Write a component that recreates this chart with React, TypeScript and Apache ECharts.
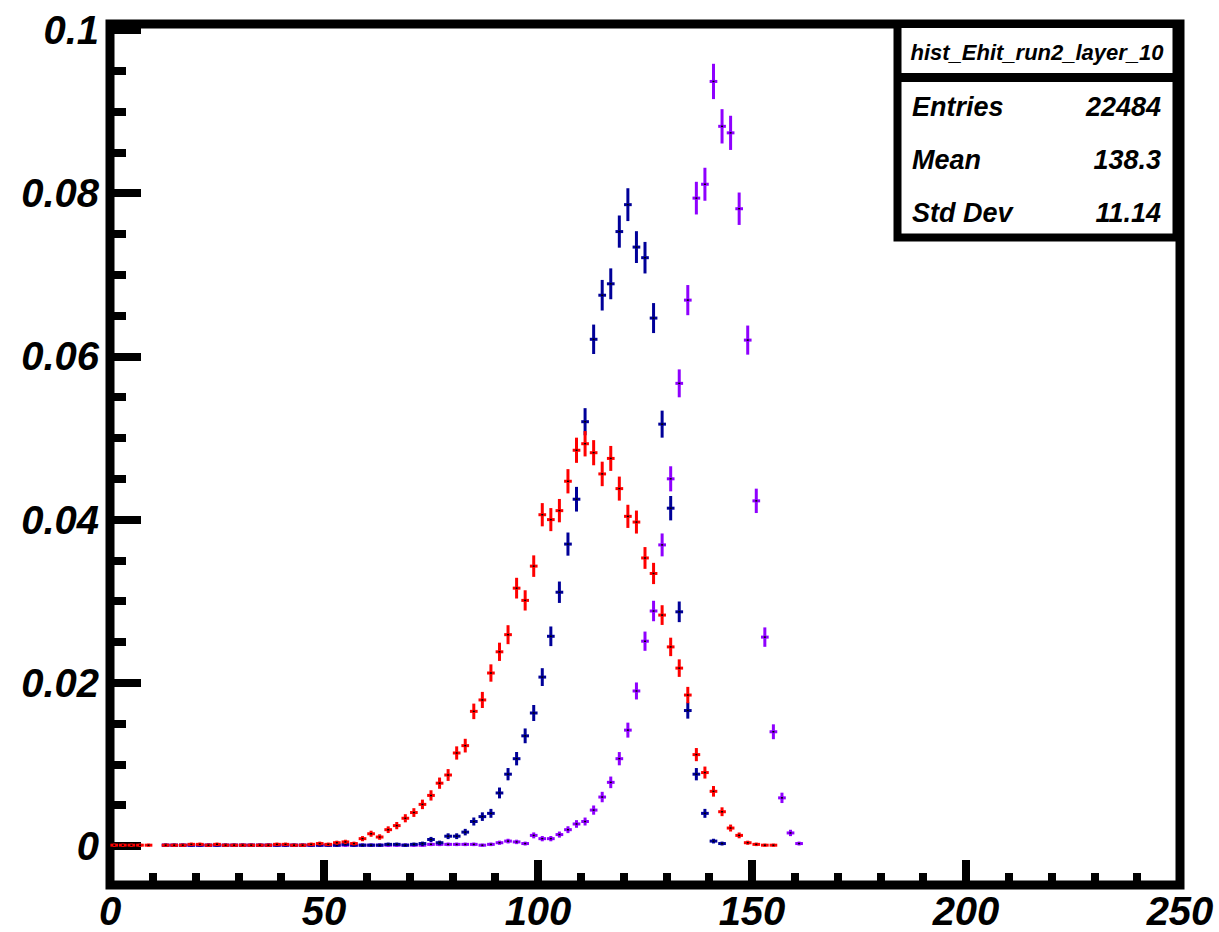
import React, { useEffect, useRef } from "react";
import * as echarts from "echarts";

// ---- histogram binning ----
const BIN_WIDTH = 2;
const FIRST_BIN_CENTER = 1;

// ---- axis ticks ----
const xMin = 0;
const xMax = 250;
const xInterval = 50;
const yMin = -0.00478;
const yMax = 0.10074;
const yMajorTicks = [0, 0.02, 0.04, 0.06, 0.08, 0.1];
const yMinorTicks = [
  0.005, 0.01, 0.015, 0.025, 0.03, 0.035, 0.045, 0.05, 0.055, 0.065, 0.07,
  0.075, 0.085, 0.09, 0.095,
];

// ---- series values (bin centers 1, 3, 5, ...) ----
const redValues = [
  // 1..11
  0.0001, 0.0001, 0.0001, 0.0001, 0.0001, null,
  // 13..51
  0.0001, 0.0001, 0.0001, 0.0002, 0.0002, 0.0001, 0.0002, 0.0001, 0.0001, 0.0001,
  0.0001, 0.0001, 0.0001, 0.0002, 0.0002, 0.0001, 0.0001, 0.0002, 0.0003, 0.0002,
  // 53..71
  0.0004, 0.0005, 0.0003, 0.0009, 0.0015, 0.0011, 0.002, 0.0025, 0.0034, 0.0041,
  // 73..91
  0.0051, 0.0062, 0.0077, 0.0087, 0.0114, 0.0123, 0.0165, 0.0179, 0.0212, 0.0238,
  // 93..111
  0.0259, 0.0316, 0.0301, 0.0343, 0.0406, 0.04, 0.0411, 0.0447, 0.0485, 0.0493,
  // 113..131
  0.0482, 0.0456, 0.0475, 0.0438, 0.0404, 0.0397, 0.0353, 0.0334, 0.0283, 0.0244,
  // 133..151
  0.0218, 0.0185, 0.0112, 0.009, 0.0067, 0.0042, 0.0022, 0.0013, 0.0004, 0.0002,
  // 153..155
  0.0001, 0.0001,
];

const blueValues = [
  // 1..11
  null, null, null, null, null, null,
  // 13..67
  0.0001, 0.0001, 0.0001, 0.0001, 0.0001, 0.0001, 0.0001, 0.0001, 0.0001, 0.0001,
  0.0001, 0.0001, 0.0001, 0.0001, 0.0001, 0.0001, 0.0001, 0.0001, 0.0001, 0.0001,
  0.0001, 0.0002, 0.0001, 0.0001, 0.0001, 0.0001, 0.0002, 0.0002,
  // 69..87
  0.0001, 0.0002, 0.0003, 0.0008, 0.0004, 0.0012, 0.0012, 0.0017, 0.003, 0.0036,
  // 89..107
  0.004, 0.0065, 0.0088, 0.0107, 0.0135, 0.0163, 0.0207, 0.0257, 0.0311, 0.037,
  // 109..127
  0.0425, 0.052, 0.0621, 0.0675, 0.0689, 0.0753, 0.0786, 0.0734, 0.0721, 0.0647,
  // 129..143
  0.0517, 0.0414, 0.0287, 0.0166, 0.0088, 0.004, 0.0006, 0.0003,
];

const purpleValues = [
  // 1..11
  null, null, null, null, null, null,
  // 13..85
  0.0001, 0.0001, 0.0001, 0.0001, 0.0001, 0.0001, 0.0001, 0.0001, 0.0001, 0.0001,
  0.0001, 0.0001, 0.0001, 0.0001, 0.0001, 0.0001, 0.0001, 0.0001, 0.0001, 0.0001,
  0.0001, 0.0001, 0.0001, 0.0001, 0.0001, 0.0001, 0.0001, 0.0001, 0.0001, 0.0001,
  0.0001, 0.0002, 0.0002, 0.0002, 0.0002, 0.0002, 0.0002,
  // 87..105
  0.0001, 0.0002, 0.0004, 0.0006, 0.0005, 0.0003, 0.0013, 0.0009, 0.0009, 0.0014,
  // 107..125
  0.002, 0.0027, 0.003, 0.0044, 0.006, 0.0078, 0.0107, 0.0142, 0.019, 0.0251,
  // 127..145
  0.0288, 0.0369, 0.045, 0.0567, 0.0669, 0.0794, 0.0811, 0.0937, 0.0882, 0.0874,
  // 147..161
  0.0781, 0.062, 0.0423, 0.0256, 0.014, 0.0059, 0.0016, 0.0003,
];

// entries per histogram (used for statistical error bars sqrt(v/N))
const RED_ENTRIES = 24000;
const BLUE_ENTRIES = 22000;
const PURPLE_ENTRIES = 22484;

const RED = "#ff0000";
const BLUE = "#000099";
const PURPLE = "#8f00ff";

// ---- stats box ----
const statsTitle = "hist_Ehit_run2_layer_10";
const statsNames = ["Entries", "Mean", "Std Dev"];
const statsValues = ["22484", "138.3", "11.14"];

const FONT = '"Liberation Sans", Arial, Helvetica, sans-serif';

function buildData(values: (number | null)[], entries: number) {
  const out: number[][] = [];
  values.forEach((v, i) => {
    if (v === null || v === undefined) return;
    out.push([FIRST_BIN_CENTER + i * BIN_WIDTH, v, Math.sqrt(v / entries)]);
  });
  return out;
}

function makeRenderItem(color: string) {
  return (params: any, api: any) => {
    const x = api.value(0);
    const y = api.value(1);
    const e = api.value(2);
    const half = (BIN_WIDTH / 2) * 0.9;
    const l = api.coord([x - half, y]);
    const r = api.coord([x + half, y]);
    const t = api.coord([x, y + e]);
    const b = api.coord([x, y - e]);
    const c = api.coord([x, y]);
    return {
      type: "group",
      children: [
        {
          type: "line",
          shape: { x1: l[0], y1: l[1], x2: r[0], y2: r[1] },
          style: { stroke: color, lineWidth: 3 },
        },
        {
          type: "line",
          shape: { x1: t[0], y1: t[1] - 1, x2: b[0], y2: b[1] + 1 },
          style: { stroke: color, lineWidth: 3 },
        },
        {
          type: "rect",
          shape: { x: c[0] - 1, y: c[1] - 0.75, width: 2, height: 1.5 },
          style: { fill: "#000" },
        },
      ],
    };
  };
}

function fmtY(v: number) {
  return String(parseFloat(v.toFixed(4)));
}

export default function App() {
  const ref = useRef<HTMLDivElement>(null);

  useEffect(() => {
    if (!ref.current) return;
    const chart = echarts.init(ref.current, undefined, { renderer: "svg" });

    const labelStyle = {
      color: "#000",
      fontFamily: FONT,
      fontWeight: "bold" as const,
      fontStyle: "italic" as const,
      fontSize: 40,
    };

    const boxLeft = 897.5;
    const boxRight = 1176.5;
    const boxTop = 24;
    const boxBottom = 237.5;
    const sepY = 77.5;
    const rowYs = [107, 160, 213];

    const option: any = {
      animation: false,
      backgroundColor: "#fff",
      grid: {
        left: 110,
        right: 39,
        top: 24,
        bottom: 47,
        show: true,
        borderColor: "#000",
        borderWidth: 9,
        backgroundColor: "transparent",
      },
      xAxis: {
        type: "value",
        min: xMin,
        max: xMax,
        interval: xInterval,
        position: "bottom",
        axisLine: { show: false, onZero: false },
        axisTick: {
          show: true,
          inside: true,
          length: 25,
          lineStyle: { color: "#000", width: 8 },
        },
        minorTick: {
          show: true,
          splitNumber: 5,
          length: 12,
          lineStyle: { color: "#000", width: 8 },
        },
        axisLabel: {
          ...labelStyle,
          margin: 6,
          showMinLabel: true,
          showMaxLabel: true,
        },
        splitLine: { show: false },
        minorSplitLine: { show: false },
      },
      yAxis: [
        {
          type: "value",
          min: yMin,
          max: yMax,
          position: "left",
          axisLine: { show: false, onZero: false },
          axisTick: {
            show: true,
            inside: true,
            length: 31,
            customValues: yMajorTicks,
            lineStyle: { color: "#000", width: 8 },
          },
          axisLabel: {
            ...labelStyle,
            margin: 11,
            customValues: yMajorTicks,
            formatter: (v: number) => fmtY(v),
          },
          splitLine: { show: false },
        },
        {
          type: "value",
          min: yMin,
          max: yMax,
          position: "left",
          axisLine: { show: false, onZero: false },
          axisTick: {
            show: true,
            inside: true,
            length: 16,
            customValues: yMinorTicks,
            lineStyle: { color: "#000", width: 8 },
          },
          axisLabel: { show: false, customValues: yMinorTicks },
          splitLine: { show: false },
        },
      ],
      series: [
        {
          type: "custom",
          name: "purple",
          renderItem: makeRenderItem(PURPLE),
          data: buildData(purpleValues, PURPLE_ENTRIES),
          encode: { x: 0, y: 1 },
          xAxisIndex: 0,
          yAxisIndex: 0,
          z: 2,
        },
        {
          type: "custom",
          name: "blue",
          renderItem: makeRenderItem(BLUE),
          data: buildData(blueValues, BLUE_ENTRIES),
          encode: { x: 0, y: 1 },
          xAxisIndex: 0,
          yAxisIndex: 0,
          z: 3,
        },
        {
          type: "custom",
          name: "red",
          renderItem: makeRenderItem(RED),
          data: buildData(redValues, RED_ENTRIES),
          encode: { x: 0, y: 1 },
          xAxisIndex: 0,
          yAxisIndex: 0,
          z: 4,
        },
      ],
      graphic: [
        {
          type: "rect",
          z: 100,
          shape: {
            x: boxLeft,
            y: boxTop,
            width: boxRight - boxLeft,
            height: boxBottom - boxTop,
          },
          style: { fill: "#fff", stroke: "#000", lineWidth: 8 },
        },
        {
          type: "line",
          z: 101,
          shape: { x1: boxLeft, y1: sepY, x2: boxRight, y2: sepY },
          style: { stroke: "#000", lineWidth: 9 },
        },
        {
          type: "text",
          z: 102,
          x: (boxLeft + boxRight) / 2,
          y: 52,
          style: {
            text: statsTitle,
            fill: "#000",
            fontFamily: FONT,
            fontWeight: "bold",
            fontStyle: "italic",
            fontSize: 22,
            align: "center",
            verticalAlign: "middle",
          },
        },
        ...statsNames.map((name, i) => ({
          type: "text",
          z: 102,
          x: 912,
          y: rowYs[i],
          style: {
            text: name,
            fill: "#000",
            fontFamily: FONT,
            fontWeight: "bold",
            fontStyle: "italic",
            fontSize: 27,
            align: "left",
            verticalAlign: "middle",
          },
        })),
        ...statsValues.map((val, i) => ({
          type: "text",
          z: 102,
          x: 1161,
          y: rowYs[i],
          style: {
            text: val,
            fill: "#000",
            fontFamily: FONT,
            fontWeight: "bold",
            fontStyle: "italic",
            fontSize: 27,
            align: "right",
            verticalAlign: "middle",
          },
        })),
      ],
    };

    chart.setOption(option);
    return () => {
      chart.dispose();
    };
  }, []);

  return (
    <div
      ref={ref}
      style={{
        position: "fixed",
        left: 0,
        top: 0,
        width: 1219,
        height: 932,
        background: "#fff",
      }}
    />
  );
}
